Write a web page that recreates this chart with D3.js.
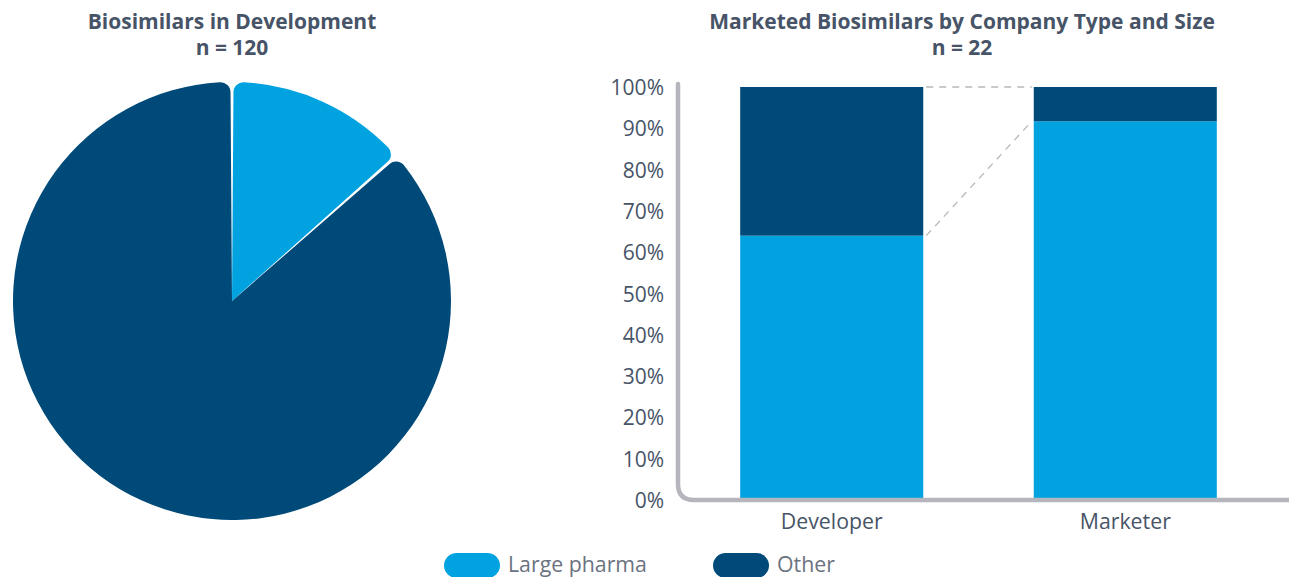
<!DOCTYPE html>
<html><head><meta charset="utf-8">
<script src="https://cdn.jsdelivr.net/npm/d3@7"></script>
<style>
html,body{margin:0;padding:0;background:#fff;}
svg{display:block;font-family:"Open Sans",sans-serif;}
</style></head>
<body>
<svg id="c" width="1289" height="577"></svg>
<script>
const seriesNames = ["Large pharma", "Other"];
const colors = ["#00A3E0", "#004A7A"];
const pieValues = [16, 104];
const barCategories = ["Developer", "Marketer"];
const largePharmaPct = [64, 91.7];
const otherPct = [36, 8.3];
const yTicks = [0,10,20,30,40,50,60,70,80,90,100];
const titleLeft = ["Biosimilars in Development", "n = 120"];
const titleRight = ["Marketed Biosimilars by Company Type and Size", "n = 22"];

const svg = d3.select("#c");
const textCol = "#475467";

// Titles
function title(lines, cx){
  const t = svg.append("text").attr("x",cx).attr("y",29).attr("text-anchor","middle")
    .attr("font-size",21).attr("font-weight",700).attr("fill",textCol);
  t.append("tspan").attr("x",cx).attr("dy",0).text(lines[0]);
  t.append("tspan").attr("x",cx).attr("dy",26).text(lines[1]);
}
title(titleLeft, 232);
title(titleRight, 962);

// Pie
const pie = d3.pie().sort(null).value(d=>d).padAngle(0.014);
const arc = d3.arc().innerRadius(0).outerRadius(219).cornerRadius(10);
const pg = svg.append("g").attr("transform","translate(232,301)");
pg.selectAll("path").data(pie(pieValues)).join("path")
  .attr("d",arc).attr("fill",(d,i)=>colors[i]);

// Bar chart
const y = d3.scaleLinear().domain([0,100]).range([500,87]);
const x = d3.scaleBand().domain(barCategories).range([685,1272]).paddingInner(0.3765).paddingOuter(0.188);

const stackData = barCategories.map((c,i)=>({cat:c, "Large pharma":largePharmaPct[i], "Other":otherPct[i]}));
const stacked = d3.stack().keys(seriesNames)(stackData);

const bg = svg.append("g");
stacked.forEach((layer,li)=>{
  bg.selectAll(null).data(layer).join("rect")
    .attr("x",d=>x(d.data.cat)).attr("width",x.bandwidth())
    .attr("y",d=>y(d[1])).attr("height",d=>y(d[0])-y(d[1]))
    .attr("fill",colors[li]);
});

// dashed connectors
const xr0 = x(barCategories[0]) + x.bandwidth();
const xl1 = x(barCategories[1]);
[[100,100],[largePharmaPct[0], largePharmaPct[1]]].forEach(([a,b])=>{
  svg.append("line").attr("x1",xr0+3).attr("y1",y(a)).attr("x2",xl1-2).attr("y2",y(b))
    .attr("stroke","#b8b8b8").attr("stroke-width",1.3).attr("stroke-dasharray","7,6");
});

// Axis line with rounded corner
const ax = 678, r = 16;
svg.append("path")
  .attr("d",`M${ax},${y(100)-3} L${ax},${y(0)-r} Q${ax},${y(0)} ${ax+r},${y(0)} L1295,${y(0)}`)
  .attr("fill","none").attr("stroke","#b5b5bd").attr("stroke-width",4.5).attr("stroke-linecap","round");

// Y tick labels
const yAxis = d3.axisLeft(y).tickValues(yTicks).tickFormat(d=>d+"%").tickSize(0).tickPadding(0);
const yg = svg.append("g").attr("transform","translate(664,0)").call(yAxis);
yg.select(".domain").remove();
yg.selectAll("text").attr("font-size",21).attr("fill",textCol).attr("font-family","Open Sans").attr("dy","0.36em");

// X labels
const xAxis = d3.axisBottom(x).tickSize(0).tickPadding(0);
const xg = svg.append("g").attr("transform","translate(0,509)").call(xAxis);
xg.select(".domain").remove();
xg.selectAll("text").attr("font-size",21.3).attr("fill",textCol).attr("font-family","Open Sans").attr("dy","0.95em");

// Legend
const legX = [444, 713];
seriesNames.forEach((n,i)=>{
  svg.append("rect").attr("x",legX[i]).attr("y",553).attr("width",56).attr("height",25).attr("rx",12.5)
    .attr("fill",colors[i]);
  svg.append("text").attr("x",legX[i]+64).attr("y",572).attr("font-size",21.3).attr("fill","#6b7280").text(n);
});
</script>
</body></html>
